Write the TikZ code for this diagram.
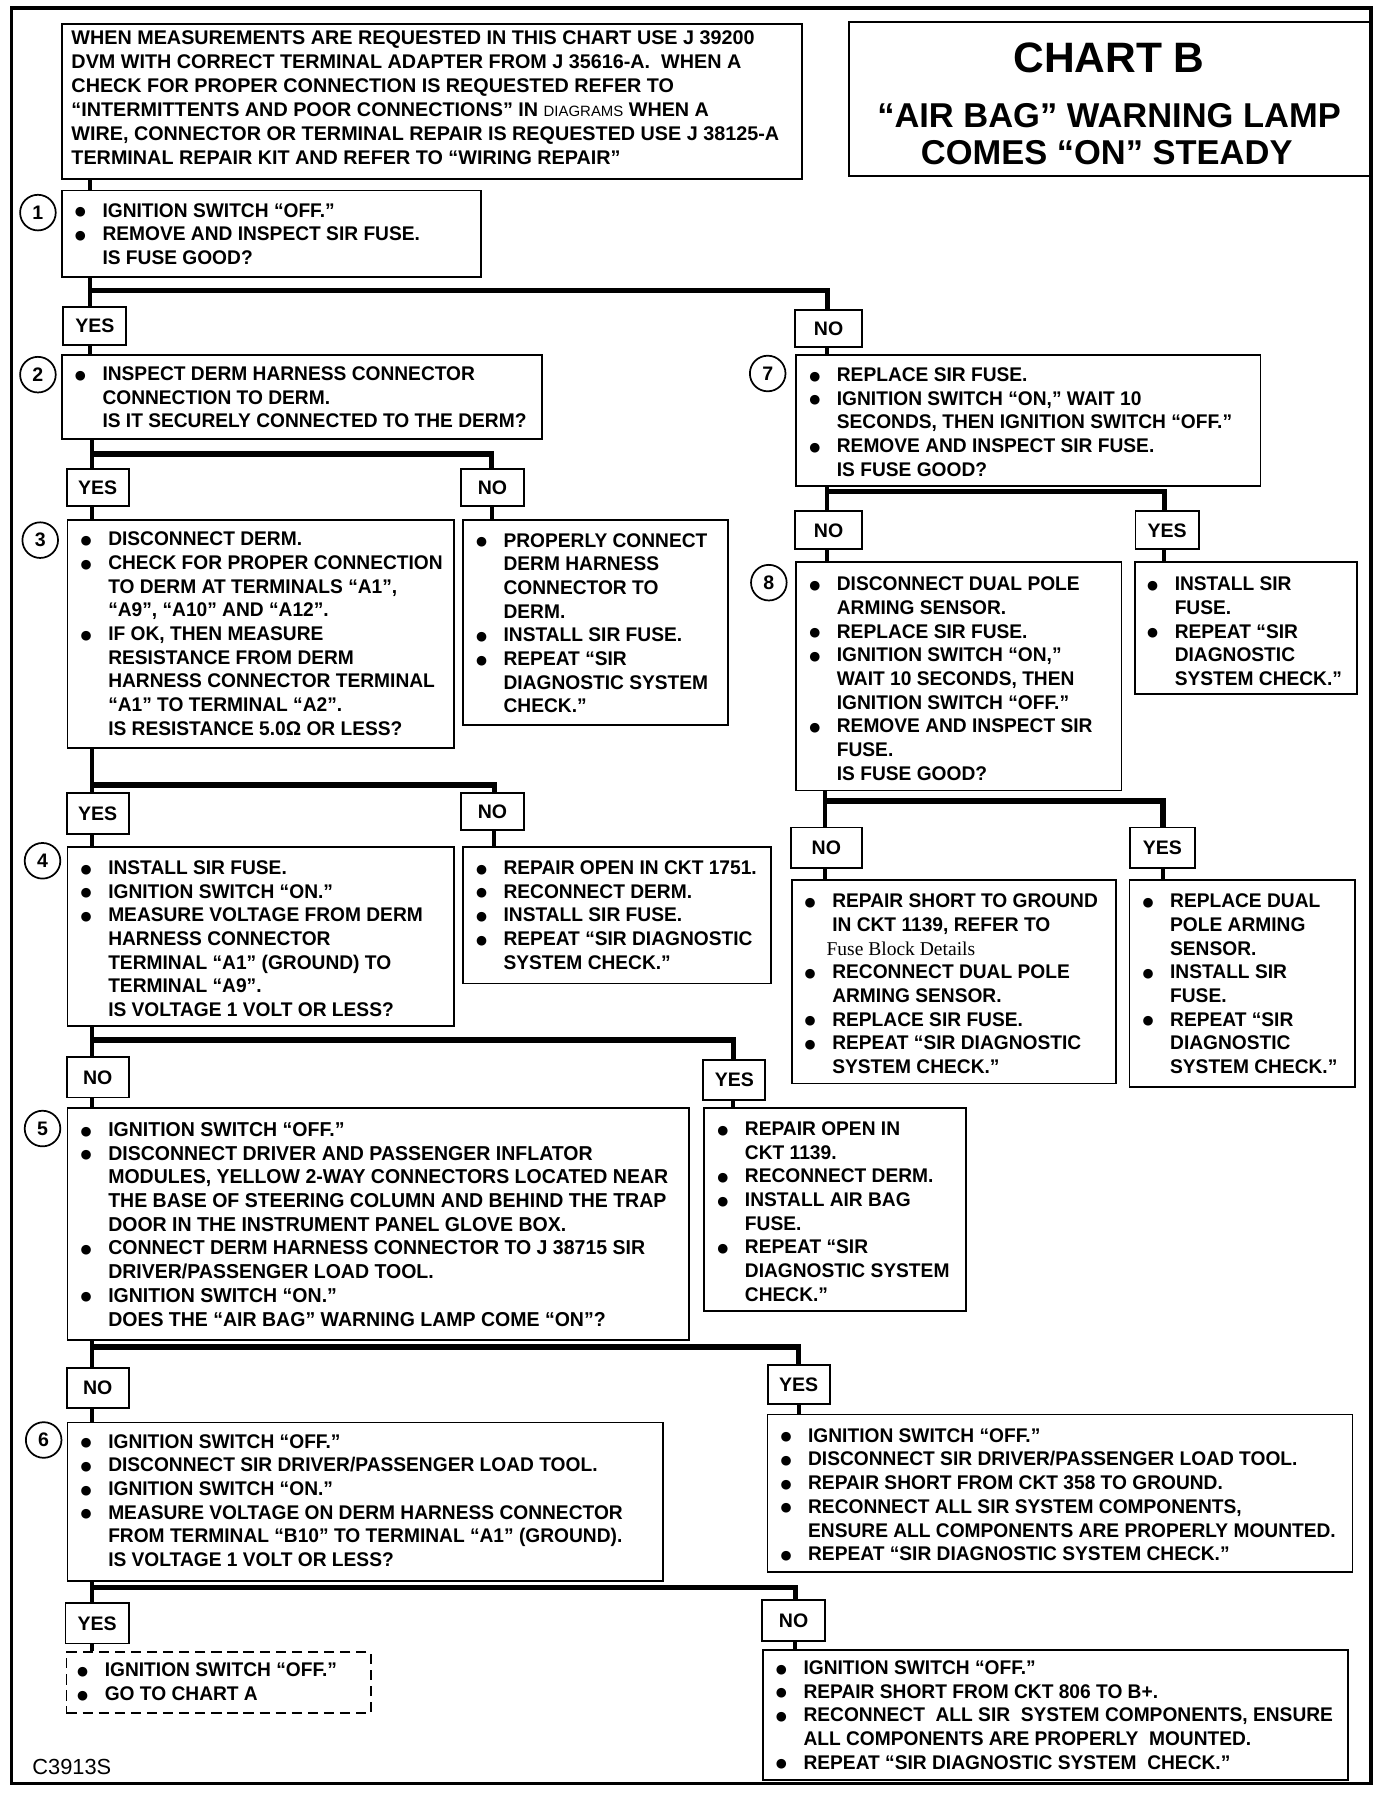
\documentclass[tikz,border=0pt]{standalone}
\usepackage{fontspec}
\setmainfont{Liberation Sans}
\newfontfamily\bodyfont{Liberation Sans}[FakeStretch=0.97]
\newfontfamily\serifrm{Liberation Serif}
\newfontfamily\dotfont{DejaVu Sans}
\usetikzlibrary{calc}
\newcommand\bul{\makebox[25pt][l]{\hspace*{1pt}\raisebox{1.2pt}{\dotfont\fontsize{11}{12}\selectfont ●}}}
\newcommand\Tb[1]{\begin{tabular}[t]{@{}l@{}l@{}}#1\end{tabular}}
\newcommand\bx[6][]{\node[box,minimum width={#5-#3},minimum height={#6-#4},#1] (#2) at (#3,-#4) {};}
\newcommand\lb[6]{\node[lbl,minimum width={#4-#2},minimum height={#5-#3}] (#1) at ({(#2+#4)/2},{-(#3+#5)/2}) {#6};}
\begin{document}
\begin{tikzpicture}[x=1pt,y=1pt,
 box/.style={draw,line width=1.6pt,inner sep=0pt,anchor=north west},
 lbl/.style={draw,line width=1.6pt,inner sep=0pt,font=\bfseries\fontsize{17}{20}\selectfont},
 txt/.style={anchor=base west,inner sep=0pt,font=\bodyfont\bfseries\fontsize{17.2}{20.6}\selectfont},
 conn/.style={line width=3.5pt},
 brn/.style={line width=4.5pt},
 num/.style={circle,draw,line width=1.5pt,minimum size=31pt,inner sep=0pt,font=\bfseries\fontsize{17}{20}\selectfont}]
\useasboundingbox (0,0) rectangle (1211,-1568);
\fill[white] (0,0) rectangle (1211,-1568);
\draw[line width=3pt] (10,-7) rectangle (1193,-1552);

% header and title
\bx{hdr}{53}{20}{697}{155}
\node[txt,font=\bfseries\fontsize{17.2}{20.8}\selectfont] (hdrt) at (62,-39) {\begin{tabular}[t]{@{}l@{}}
WHEN MEASUREMENTS ARE REQUESTED IN THIS CHART USE J 39200\\
DVM WITH CORRECT TERMINAL ADAPTER FROM J 35616-A.\ \ WHEN A\\
CHECK FOR PROPER CONNECTION IS REQUESTED REFER TO\\
“INTERMITTENTS AND POOR CONNECTIONS” IN {\mdseries\fontsize{13}{14}\selectfont DIAGRAMS} WHEN A\\
WIRE, CONNECTOR OR TERMINAL REPAIR IS REQUESTED USE J 38125-A\\
TERMINAL REPAIR KIT AND REFER TO “WIRING REPAIR”
\end{tabular}};
\bx{ttl}{738}{18}{1193}{152}
\node[anchor=base,inner sep=0pt,font=\bfseries\fontsize{37}{40}\selectfont] (ttl1) at (965,-63) {CHART B};
\node[anchor=base,inner sep=0pt,font=\bfseries\fontsize{30}{32}\selectfont] (ttl2) at (965,-111) {“AIR BAG” WARNING LAMP};
\node[anchor=base,inner sep=0pt,font=\bfseries\fontsize{30}{32}\selectfont] (ttl3) at (963,-143) {COMES “ON” STEADY};

% step boxes
\bx{b1}{53}{165}{418}{240}
\node[txt] (b1t) at (64,-189) {\Tb{\bul & IGNITION SWITCH “OFF.”\\ \bul & REMOVE AND INSPECT SIR FUSE.\\ & IS FUSE GOOD?}};
\node[num] (c1) at (33,-185) {1};

\bx{b2}{53}{308}{471}{381}
\node[txt] (b2t) at (64,-331) {\Tb{\bul & INSPECT DERM HARNESS CONNECTOR\\ & CONNECTION TO DERM.\\ & IS IT SECURELY CONNECTED TO THE DERM?}};
\node[num] (c2) at (33,-326) {2};

\bx{b3}{58}{452}{394}{650}
\node[txt] (b3t) at (69,-475) {\Tb{\bul & DISCONNECT DERM.\\ \bul & CHECK FOR PROPER CONNECTION\\ & TO DERM AT TERMINALS “A1”,\\ & “A9”, “A10” AND “A12”.\\ \bul & IF OK, THEN MEASURE\\ & RESISTANCE FROM DERM\\ & HARNESS CONNECTOR TERMINAL\\ & “A1” TO TERMINAL “A2”.\\ & IS RESISTANCE 5.0Ω OR LESS?}};
\node[num] (c3) at (35,-470) {3};

\bx{cn2}{402}{452}{633}{630}
\node[txt] (cn2t) at (413,-476) {\Tb{\bul & PROPERLY CONNECT\\ & DERM HARNESS\\ & CONNECTOR TO\\ & DERM.\\ \bul & INSTALL SIR FUSE.\\ \bul & REPEAT “SIR\\ & DIAGNOSTIC SYSTEM\\ & CHECK.”}};

\bx{b4}{58}{736}{394}{892}
\node[txt] (b4t) at (69,-761) {\Tb{\bul & INSTALL SIR FUSE.\\ \bul & IGNITION SWITCH “ON.”\\ \bul & MEASURE VOLTAGE FROM DERM\\ & HARNESS CONNECTOR\\ & TERMINAL “A1” (GROUND) TO\\ & TERMINAL “A9”.\\ & IS VOLTAGE 1 VOLT OR LESS?}};
\node[num] (c4) at (37,-749) {4};

\bx{cn3}{402}{736}{670}{855}
\node[txt] (cn3t) at (413,-761) {\Tb{\bul & REPAIR OPEN IN CKT 1751.\\ \bul & RECONNECT DERM.\\ \bul & INSTALL SIR FUSE.\\ \bul & REPEAT “SIR DIAGNOSTIC\\ & SYSTEM CHECK.”}};

\bx{b5}{58}{963}{599}{1165}
\node[txt,font=\bodyfont\bfseries\fontsize{17.5}{20.6}\selectfont] (b5t) at (69,-989) {\Tb{\bul & IGNITION SWITCH “OFF.”\\ \bul & DISCONNECT DRIVER AND PASSENGER INFLATOR\\ & MODULES, YELLOW 2-WAY CONNECTORS LOCATED NEAR\\ & THE BASE OF STEERING COLUMN AND BEHIND THE TRAP\\ & DOOR IN THE INSTRUMENT PANEL GLOVE BOX.\\ \bul & CONNECT DERM HARNESS CONNECTOR TO J 38715 SIR\\ & DRIVER/PASSENGER LOAD TOOL.\\ \bul & IGNITION SWITCH “ON.”\\ & DOES THE “AIR BAG” WARNING LAMP COME “ON”?}};
\node[num] (c5) at (37,-982) {5};

\bx{cy4}{612}{963}{840}{1140}
\node[txt] (cy4t) at (623,-988) {\Tb{\bul & REPAIR OPEN IN\\ & CKT 1139.\\ \bul & RECONNECT DERM.\\ \bul & INSTALL AIR BAG\\ & FUSE.\\ \bul & REPEAT “SIR\\ & DIAGNOSTIC SYSTEM\\ & CHECK.”}};

\bx{b6}{58}{1237}{576}{1375}
\node[txt] (b6t) at (69,-1260) {\Tb{\bul & IGNITION SWITCH “OFF.”\\ \bul & DISCONNECT SIR DRIVER/PASSENGER LOAD TOOL.\\ \bul & IGNITION SWITCH “ON.”\\ \bul & MEASURE VOLTAGE ON DERM HARNESS CONNECTOR\\ & FROM TERMINAL “B10” TO TERMINAL “A1” (GROUND).\\ & IS VOLTAGE 1 VOLT OR LESS?}};
\node[num] (c6) at (38,-1253) {6};

\bx{cy5}{667}{1230}{1176}{1367}
\node[txt] (cy5t) at (678,-1255) {\Tb{\bul & IGNITION SWITCH “OFF.”\\ \bul & DISCONNECT SIR DRIVER/PASSENGER LOAD TOOL.\\ \bul & REPAIR SHORT FROM CKT 358 TO GROUND.\\ \bul & RECONNECT ALL SIR SYSTEM COMPONENTS,\\ & ENSURE ALL COMPONENTS ARE PROPERLY MOUNTED.\\ \bul & REPEAT “SIR DIAGNOSTIC SYSTEM CHECK.”}};

\bx[dashed,dash pattern=on 9pt off 5pt]{cy6}{57}{1437}{322}{1490}
\node[txt] (cy6t) at (66,-1459) {\Tb{\bul & IGNITION SWITCH “OFF.”\\ \bul & GO TO CHART A}};

\bx{cn6}{663}{1435}{1172}{1548}
\node[txt] (cn6t) at (674,-1457) {\Tb{\bul & IGNITION SWITCH “OFF.”\\ \bul & REPAIR SHORT FROM CKT 806 TO B+.\\ \bul & RECONNECT\ \ ALL SIR\ \ SYSTEM COMPONENTS, ENSURE\\ & ALL COMPONENTS ARE PROPERLY\ \ MOUNTED.\\ \bul & REPEAT “SIR DIAGNOSTIC SYSTEM\ \ CHECK.”}};

\bx{b7}{692}{308}{1096}{422}
\node[txt] (b7t) at (703,-332) {\Tb{\bul & REPLACE SIR FUSE.\\ \bul & IGNITION SWITCH “ON,” WAIT 10\\ & SECONDS, THEN IGNITION SWITCH “OFF.”\\ \bul & REMOVE AND INSPECT SIR FUSE.\\ & IS FUSE GOOD?}};
\node[num] (c7) at (668,-325) {7};

\bx{b8}{692}{488}{975}{687}
\node[txt] (b8t) at (703,-514) {\Tb{\bul & DISCONNECT DUAL POLE\\ & ARMING SENSOR.\\ \bul & REPLACE SIR FUSE.\\ \bul & IGNITION SWITCH “ON,”\\ & WAIT 10 SECONDS, THEN\\ & IGNITION SWITCH “OFF.”\\ \bul & REMOVE AND INSPECT SIR\\ & FUSE.\\ & IS FUSE GOOD?}};
\node[num] (c8) at (669,-507) {8};

\bx{cy7}{987}{488}{1180}{603}
\node[txt] (cy7t) at (997,-514) {\Tb{\bul & INSTALL SIR\\ & FUSE.\\ \bul & REPEAT “SIR\\ & DIAGNOSTIC\\ & SYSTEM CHECK.”}};

\bx{cn8}{688}{765}{970}{942}
\node[txt] (cn8t) at (699,-790) {\Tb{\bul & REPAIR SHORT TO GROUND\\ & IN CKT 1139, REFER TO\\ & \hspace*{-5pt}{\serifrm\mdseries\fontsize{17}{20}\selectfont Fuse Block Details}\\ \bul & RECONNECT DUAL POLE\\ & ARMING SENSOR.\\ \bul & REPLACE SIR FUSE.\\ \bul & REPEAT “SIR DIAGNOSTIC\\ & SYSTEM CHECK.”}};

\bx{cy8}{982}{765}{1178}{945}
\node[txt] (cy8t) at (993,-790) {\Tb{\bul & REPLACE DUAL\\ & POLE ARMING\\ & SENSOR.\\ \bul & INSTALL SIR\\ & FUSE.\\ \bul & REPEAT “SIR\\ & DIAGNOSTIC\\ & SYSTEM CHECK.”}};

% answer labels
\lb{y1}{55}{267}{110}{300}{YES}
\lb{n1}{692}{270}{750}{302}{NO}
\lb{y2}{58}{408}{112}{440}{YES}
\lb{n2}{401}{408}{456}{440}{NO}
\lb{y3}{58}{690}{112}{726}{YES}
\lb{n3}{401}{690}{456}{722}{NO}
\lb{n4}{58}{920}{112}{955}{NO}
\lb{y4}{612}{922}{666}{957}{YES}
\lb{n5}{58}{1190}{112}{1225}{NO}
\lb{y5}{668}{1188}{722}{1222}{YES}
\lb{y6}{57}{1395}{112}{1430}{YES}
\lb{n6}{663}{1392}{718}{1428}{NO}
\lb{n7}{692}{445}{750}{478}{NO}
\lb{y7}{988}{445}{1043}{478}{YES}
\lb{n8}{688}{720}{750}{755}{NO}
\lb{y8}{983}{720}{1040}{755}{YES}

% connectors
\coordinate (s1) at (78,-253); \coordinate (r1) at (720,-253);
\draw[conn] (hdr.south -| s1) -- (b1.north -| s1);
\draw[conn] (b1.south -| s1) -- (y1.north -| s1);
\draw[brn] (s1) -| (n1.north -| r1);
\draw[conn] (y1.south -| s1) -- (b2.north -| s1);
\draw[conn] (n1.south -| r1) -- (b7.north -| r1);

\coordinate (s2) at (80,-395); \coordinate (r2) at (428,-395);
\draw[conn] (b2.south -| s2) -- (y2.north -| s2);
\draw[brn] (s2) -| (n2.north -| r2);
\draw[conn] (y2.south -| s2) -- (b3.north -| s2);
\draw[conn] (n2.south -| r2) -- (cn2.north -| r2);

\coordinate (s3) at (80,-683); \coordinate (r3) at (430,-683);
\draw[conn] (b3.south -| s3) -- (y3.north -| s3);
\draw[brn] (s3) -| (n3.north -| r3);
\draw[conn] (y3.south -| s3) -- (b4.north -| s3);
\draw[conn] (n3.south -| r3) -- (cn3.north -| r3);

\coordinate (s4) at (80,-905); \coordinate (r4) at (638,-905);
\draw[conn] (b4.south -| s4) -- (n4.north -| s4);
\draw[brn] (s4) -| (y4.north -| r4);
\draw[conn] (n4.south -| s4) -- (b5.north -| s4);
\draw[conn] (y4.south -| r4) -- (cy4.north -| r4);

\coordinate (s5) at (80,-1172); \coordinate (r5) at (695,-1172);
\draw[conn] (b5.south -| s5) -- (n5.north -| s5);
\draw[brn] (s5) -| (y5.north -| r5);
\draw[conn] (n5.south -| s5) -- (b6.north -| s5);
\draw[conn] (y5.south -| r5) -- (cy5.north -| r5);

\coordinate (s6) at (80,-1381); \coordinate (r6) at (692,-1381);
\draw[conn] (b6.south -| s6) -- (y6.north -| s6);
\draw[brn] (s6) -| (n6.north -| r6);
\draw[conn] (y6.south -| s6) -- (cy6.north -| s6);
\draw[conn] (n6.south -| r6) -- (cn6.north -| r6);

\coordinate (s7) at (720,-428); \coordinate (r7) at (1013,-428);
\draw[conn] (b7.south -| s7) -- (n7.north -| s7);
\draw[brn] (s7) -| (y7.north -| r7);
\draw[conn] (n7.south -| s7) -- (b8.north -| s7);
\draw[conn] (y7.south -| r7) -- (cy7.north -| r7);

\coordinate (s8) at (718,-697); \coordinate (r8) at (1012,-697);
\draw[conn] (b8.south -| s8) -- (n8.north -| s8);
\draw[brn] (s8) -| (y8.north -| r8);
\draw[conn] (n8.south -| s8) -- (cn8.north -| s8);
\draw[conn] (y8.south -| r8) -- (cy8.north -| r8);

\node[anchor=base west,inner sep=0pt,font=\fontsize{19}{20}\selectfont] (code) at (28,-1544) {C3913S};
\end{tikzpicture}
\end{document}
